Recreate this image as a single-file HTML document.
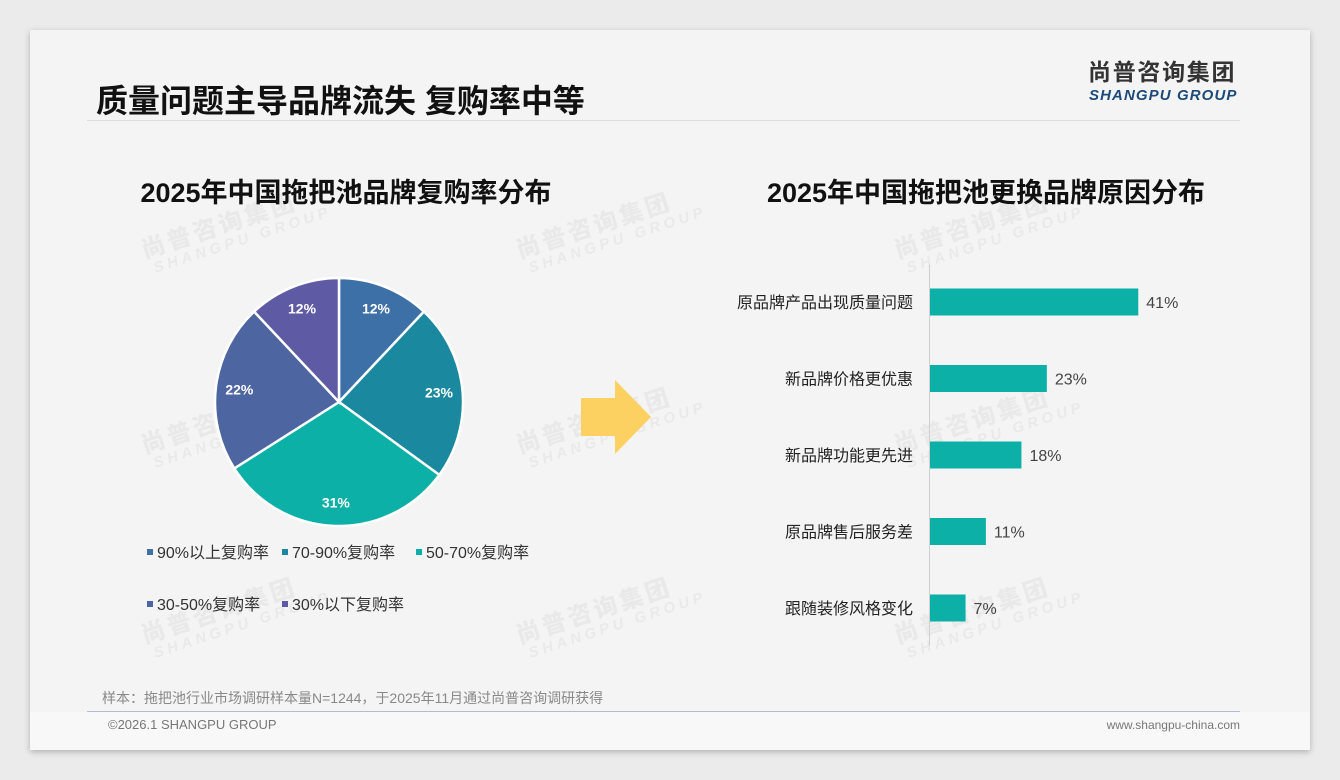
<!DOCTYPE html>
<html><head><meta charset="utf-8">
<style>
body{margin:0;width:1340px;height:780px;background:#ebebeb;font-family:"Liberation Sans","Noto Sans CJK SC",sans-serif;overflow:hidden;position:relative}
.card{position:absolute;left:30px;top:30px;width:1280px;height:720px;background:#f4f4f4;box-shadow:0 2px 6px rgba(0,0,0,.25)}
.abs{position:absolute}
.wm{position:absolute;color:rgba(0,0,0,0.045);font-weight:bold;transform:rotate(-18deg);line-height:1;white-space:nowrap}
.wm b{display:block;font-size:24px;letter-spacing:3px}
.wm i{display:block;font-size:15px;letter-spacing:4px;font-style:italic;margin-left:6px}
</style></head><body>
<div class="card"></div>
<div class="abs" style="left:30px;top:712px;width:1280px;height:38px;background:#f8f8f8"></div>
<div class="abs" style="left:96px;top:76px;font-size:32px;font-weight:bold;color:#111">质量问题主导品牌流失 复购率中等</div>
<div class="abs" style="left:1088px;top:58px;font-size:23px;font-weight:bold;color:#333;letter-spacing:1.7px;line-height:1.3">尚普咨询集团</div>
<div class="abs" style="left:1089px;top:88px;font-size:15px;font-weight:bold;font-style:italic;color:#1c4a7a;letter-spacing:1.1px;line-height:1">SHANGPU GROUP</div>
<div class="abs" style="left:87px;top:120px;width:1153px;height:1px;background:#dcdcdc"></div>
<div class="wm" style="left:140px;top:210px"><b>尚普咨询集团</b><i>SHANGPU GROUP</i></div>
<div class="wm" style="left:515px;top:210px"><b>尚普咨询集团</b><i>SHANGPU GROUP</i></div>
<div class="wm" style="left:893px;top:210px"><b>尚普咨询集团</b><i>SHANGPU GROUP</i></div>
<div class="wm" style="left:140px;top:405px"><b>尚普咨询集团</b><i>SHANGPU GROUP</i></div>
<div class="wm" style="left:515px;top:405px"><b>尚普咨询集团</b><i>SHANGPU GROUP</i></div>
<div class="wm" style="left:893px;top:405px"><b>尚普咨询集团</b><i>SHANGPU GROUP</i></div>
<div class="wm" style="left:140px;top:595px"><b>尚普咨询集团</b><i>SHANGPU GROUP</i></div>
<div class="wm" style="left:515px;top:595px"><b>尚普咨询集团</b><i>SHANGPU GROUP</i></div>
<div class="wm" style="left:893px;top:595px"><b>尚普咨询集团</b><i>SHANGPU GROUP</i></div>
<div class="abs" style="left:100px;top:171px;width:492px;text-align:center;font-size:27px;font-weight:bold;color:#111">2025年中国拖把池品牌复购率分布</div>
<div class="abs" style="left:720px;top:171px;width:532px;text-align:center;font-size:27px;font-weight:bold;color:#111">2025年中国拖把池更换品牌原因分布</div>
<svg class="abs" style="left:0;top:0" width="1340" height="780">
<g id="pie"></g>
<polygon points="581,398 615,398 615,380 651,417 615,454 615,436 581,436" fill="#fdd062"/>
<g id="bars"></g>
</svg>
<div class="abs" style="left:102px;top:688px;font-size:14px;color:#888">样本：拖把池行业市场调研样本量N=1244，于2025年11月通过尚普咨询调研获得</div>
<div class="abs" style="left:87px;top:711px;width:1153px;height:1px;background:#aebdd0"></div>
<div class="abs" style="left:108px;top:717px;font-size:13px;color:#777">©2026.1 SHANGPU GROUP</div>
<div class="abs" style="left:1000px;top:718px;width:240px;text-align:right;font-size:12px;color:#777">www.shangpu-china.com</div>
<script>
const pieLabels=["90%以上复购率","70-90%复购率","50-70%复购率","30-50%复购率","30%以下复购率"];
const pieValues=[12,23,31,22,12];
const pieColors=["#3d70a6","#1a889e","#0db0a7","#4d66a2","#5e5aa3"];
const barLabels=["原品牌产品出现质量问题","新品牌价格更优惠","新品牌功能更先进","原品牌售后服务差","跟随装修风格变化"];
const barValues=[41,23,18,11,7];
const NS="http://www.w3.org/2000/svg";
function mk(t,a,p){const e=document.createElementNS(NS,t);for(const k in a)e.setAttribute(k,a[k]);p.appendChild(e);return e;}
const pie=document.getElementById('pie');
const cx=339,cy=402,R=124;
const tot=pieValues.reduce((a,b)=>a+b,0);
let ang=0;
pieValues.forEach((v,i)=>{
  const a0=ang/tot*2*Math.PI, a1=(ang+v)/tot*2*Math.PI; ang+=v;
  const x0=cx+R*Math.sin(a0),y0=cy-R*Math.cos(a0),x1=cx+R*Math.sin(a1),y1=cy-R*Math.cos(a1);
  const p=mk('path',{d:`M${cx},${cy}L${x0},${y0}A${R},${R} 0 ${a1-a0>Math.PI?1:0} 1 ${x1},${y1}Z`,fill:pieColors[i],stroke:'#fff','stroke-width':2.5},pie);
  
  
  const am=(a0+a1)/2, r2=R*0.81;
  const t=mk('text',{x:cx+r2*Math.sin(am),y:cy-r2*Math.cos(am)+5,'text-anchor':'middle',fill:'#fff','font-size':14,'font-weight':'bold'},pie);
  t.textContent=v+'%';
  
  
});
const legPos=[[147,553],[282,553],[416,553],[147,605],[282,605]];
pieLabels.forEach((l,i)=>{
  const r=mk('rect',{x:legPos[i][0],y:legPos[i][1]-4,width:6,height:6,fill:pieColors[i]},pie);
  
  
  const t=mk('text',{x:legPos[i][0]+10,y:legPos[i][1]+5,fill:'#333','font-size':16},pie);
  t.textContent=l;
  
  
});
const bars=document.getElementById('bars');
const x0=930, sx=v=>x0+v*5.08, yc=i=>302+i*76.5;
const ax=mk('line',{x1:929.5,x2:929.5,y1:265,y2:646,stroke:'#d0d0d0'},bars);


barValues.forEach((v,i)=>{
  const r=mk('rect',{x:x0,y:yc(i)-13.5,width:sx(v)-x0,height:27,fill:'#0db0a7'},bars);
  
  
  const t=mk('text',{x:sx(v)+8,y:yc(i)+6,fill:'#444','font-size':16},bars);
  t.textContent=v+'%';
  
  
  const c=mk('text',{x:913,y:yc(i)+6,'text-anchor':'end',fill:'#222','font-size':16},bars);
  c.textContent=barLabels[i];
  
  
});
</script>
</body></html>
